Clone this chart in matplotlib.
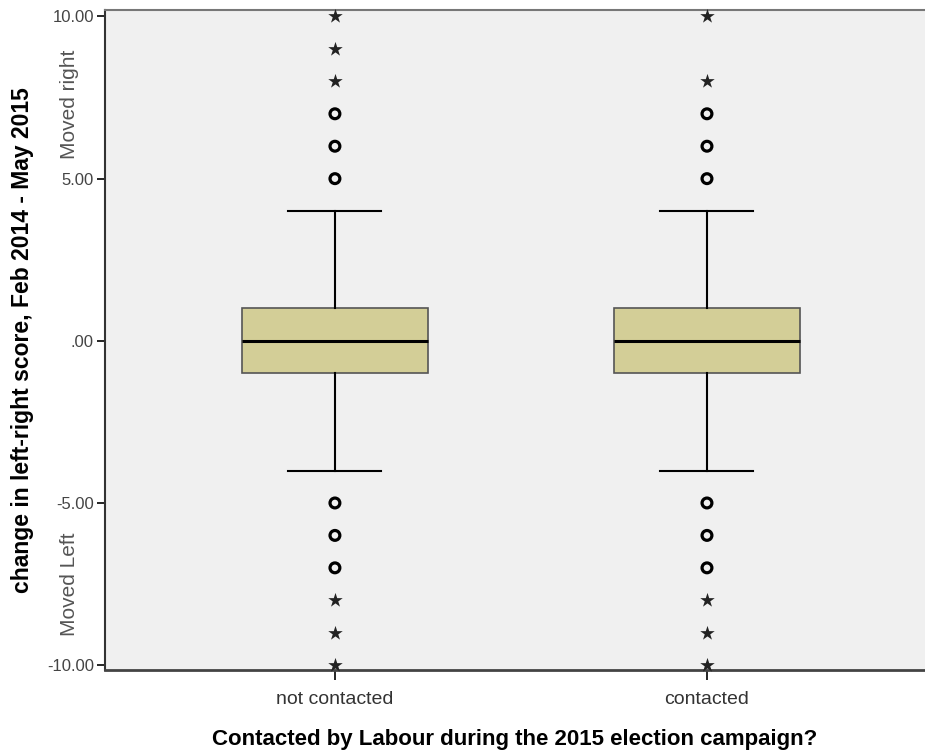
import matplotlib
matplotlib.use("Agg")
import matplotlib.pyplot as plt

plt.rcParams['font.family'] = ['Liberation Sans', 'DejaVu Sans']

groups = ['not contacted', 'contacted']
q1 = [-1.0, -1.0]
medians = [0.0, 0.0]
q3 = [1.0, 1.0]
whisker_low = [-4.0, -4.0]
whisker_high = [4.0, 4.0]
# outliers (circles) and extreme values (stars)
outliers = [[5, 6, 7, -5, -6, -7], [5, 6, 7, -5, -6, -7]]
extremes = [[8, 9, 10, -8, -9, -10], [8, 10, -8, -9, -10]]

yticks = [-10, -5, 0, 5, 10]
yticklabels = ['-10.00', '-5.00', '.00', '5.00', '10.00']

fig = plt.figure(figsize=(9.25, 7.5), dpi=100)
ax = fig.add_axes([105 / 925, 80 / 750, 820 / 925, 660 / 750])
ax.set_facecolor('#f0f0f0')

stats = []
for i, g in enumerate(groups):
    stats.append(dict(label=g, med=medians[i], q1=q1[i], q3=q3[i],
                      whislo=whisker_low[i], whishi=whisker_high[i], fliers=[]))

positions = [1, 2]
ax.bxp(stats, positions=positions, widths=0.5, patch_artist=True,
       showfliers=False,
       boxprops=dict(facecolor='#d3ce97', edgecolor='#555555', linewidth=1.2),
       medianprops=dict(color='black', linewidth=2.2),
       whiskerprops=dict(color='black', linewidth=1.5),
       capprops=dict(color='black', linewidth=1.5),
       capwidths=0.25)

for p, vals in zip(positions, outliers):
    ax.scatter([p] * len(vals), vals, marker='o', s=50, facecolors='none',
               edgecolors='black', linewidths=2.3, zorder=3, clip_on=False)
for p, vals in zip(positions, extremes):
    ax.scatter([p] * len(vals), vals, marker='*', s=120, color='#222222',
               linewidths=0, zorder=3, clip_on=False)

ax.set_xlim(0.382, 2.586)
ax.set_ylim(-10.15, 10.2)
ax.set_yticks(yticks)
ax.set_yticklabels(yticklabels)
ax.set_xticks(positions)
ax.set_xticklabels(groups)
ax.tick_params(axis='y', labelsize=12, labelcolor='#444444', length=6, width=1.2, pad=2)
ax.tick_params(axis='x', labelsize=14, labelcolor='#333333', length=7, width=1.2, pad=8)

ax.spines['right'].set_visible(False)
ax.spines['top'].set_color('#777777')
ax.spines['top'].set_linewidth(1.5)
ax.spines['left'].set_color('#333333')
ax.spines['left'].set_linewidth(1.5)
ax.spines['bottom'].set_color('#444444')
ax.spines['bottom'].set_linewidth(2)

ax.set_ylabel('change in left-right score, Feb 2014 - May 2015',
              fontsize=16.5, fontweight='bold', va='center')
ax.yaxis.set_label_coords(-0.101, 0.5)
ax.set_xlabel('Contacted by Labour during the 2015 election campaign?',
              fontsize=16, fontweight='bold', va='center')
ax.xaxis.set_label_coords(0.5, -0.105)

ax.text(-0.043, 7.3, 'Moved right', transform=ax.get_yaxis_transform(),
        rotation=90, ha='center', va='center', fontsize=15, color='#555555')
ax.text(-0.043, -7.5, 'Moved Left', transform=ax.get_yaxis_transform(),
        rotation=90, ha='center', va='center', fontsize=15, color='#555555')

fig.savefig('out.png', dpi=100, facecolor='white')
